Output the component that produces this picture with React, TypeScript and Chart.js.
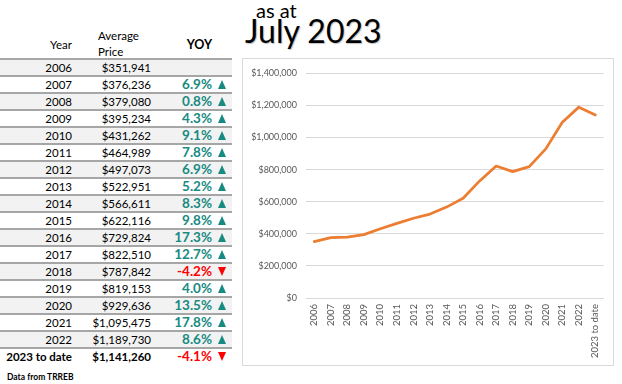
import React, { useEffect, useRef } from "react";
import { Chart, registerables } from "chart.js";

Chart.register(...registerables);

const years = ["2006", "2007", "2008", "2009", "2010", "2011", "2012", "2013", "2014", "2015", "2016", "2017", "2018", "2019", "2020", "2021", "2022", "2023 to date"];
const prices = [351941, 376236, 379080, 395234, 431262, 464989, 497073, 522951, 566611, 622116, 729824, 822510, 787842, 819153, 929636, 1095475, 1189730, 1141260];
const yoy: (number | null)[] = [null, 6.9, 0.8, 4.3, 9.1, 7.8, 6.9, 5.2, 8.3, 9.8, 17.3, 12.7, -4.2, 4.0, 13.5, 17.8, 8.6, -4.1];
const yTicks = [0, 200000, 400000, 600000, 800000, 1000000, 1200000, 1400000];

const FONT = "Lato, 'Open Sans', sans-serif";
const TEAL = "#178a82";
const RED = "#ff0000";

const fmtMoney = (v: number) => "$" + v.toLocaleString("en-US");

function Triangle({ up }: { up: boolean }) {
  const s: React.CSSProperties = {
    position: "absolute",
    left: 218,
    top: 3,
    width: 0,
    height: 0,
    borderLeft: "4.5px solid transparent",
    borderRight: "4.5px solid transparent",
  };
  if (up) s.borderBottom = `9px solid ${TEAL}`;
  else s.borderTop = `9px solid ${RED}`;
  return <div style={s} />;
}

function Table() {
  const rowH = 17;
  const top0 = 58;
  return (
    <>
      <div style={{ position: "absolute", left: 0, top: 37, width: 72, textAlign: "right", fontSize: 11.5, lineHeight: "16px" }}>Year</div>
      <div style={{ position: "absolute", left: 98, top: 28, fontSize: 11.5, lineHeight: "16px" }}>
        Average
        <br />
        Price
      </div>
      <div style={{ position: "absolute", left: 160, top: 37, width: 52, textAlign: "right", fontSize: 12.5, fontWeight: 700, lineHeight: "16px" }}>YOY</div>
      {years.map((y, i) => {
        const last = i === years.length - 1;
        const v = yoy[i];
        return (
          <div
            key={y}
            style={{
              position: "absolute",
              left: 0,
              top: top0 + i * rowH,
              width: 232,
              height: rowH,
              boxSizing: "border-box",
              borderTop: "2px solid #a6a6a6",
              background: i % 2 === 0 ? "#f2f2f2" : "#ffffff",
            }}
          >
            <div style={{ position: "absolute", left: 0, top: 0, width: 72, textAlign: "right", fontSize: 11.5, lineHeight: "15px", fontWeight: last ? 700 : 400, whiteSpace: "nowrap" }}>{y}</div>
            <div style={{ position: "absolute", left: 70, top: 0, width: 81, textAlign: "right", fontSize: 11.5, lineHeight: "15px", fontWeight: last ? 700 : 400 }}>{fmtMoney(prices[i])}</div>
            {v !== null && (
              <>
                <div style={{ position: "absolute", left: 150, top: 0, width: 62, textAlign: "right", fontSize: 13.5, lineHeight: "15px", fontWeight: 700, color: v < 0 ? RED : TEAL }}>
                  {v.toFixed(1)}%
                </div>
                <Triangle up={v >= 0} />
              </>
            )}
          </div>
        );
      })}
      <div style={{ position: "absolute", left: 7, top: 372, fontSize: 8.5, fontWeight: 700, lineHeight: "10px" }}>Data from TRREB</div>
    </>
  );
}

function LineChart() {
  const ref = useRef<HTMLCanvasElement | null>(null);
  useEffect(() => {
    if (!ref.current) return;
    Chart.defaults.font.family = FONT;
    const chart = new Chart(ref.current, {
      type: "line",
      data: {
        labels: years,
        datasets: [
          {
            data: prices,
            borderColor: "#ED7D31",
            backgroundColor: "#ED7D31",
            borderWidth: 2.75,
            pointRadius: 0,
            tension: 0,
            fill: false,
            borderCapStyle: "round",
            borderJoinStyle: "round",
          },
        ],
      },
      options: {
        animation: false,
        responsive: false,
        maintainAspectRatio: false,
        layout: { padding: { top: 12, right: 7, left: 0, bottom: 0 } },
        plugins: { legend: { display: false }, tooltip: { enabled: false } },
        scales: {
          x: {
            offset: true,
            grid: { display: false, drawTicks: false },
            border: { display: true, color: "#d9d9d9" },
            ticks: { minRotation: 90, maxRotation: 90, autoSkip: false, padding: 6, color: "#595959", font: { size: 9.5 } },
            afterFit: (s: any) => {
              s.height = 67;
            },
          },
          y: {
            min: 0,
            max: 1400000,
            afterBuildTicks: (s: any) => {
              s.ticks = yTicks.map((v) => ({ value: v }));
            },
            grid: { color: "#d9d9d9", drawTicks: false },
            border: { display: false },
            ticks: {
              padding: 9,
              color: "#595959",
              font: { size: 9 },
              callback: (v: any) => fmtMoney(Number(v)),
            },
            afterFit: (s: any) => {
              s.width = 63;
            },
          },
        },
      },
    } as any);
    return () => chart.destroy();
  }, []);
  return (
    <div style={{ position: "absolute", left: 242, top: 58, width: 372, height: 308, boxSizing: "border-box", border: "1px solid #d9d9d9", background: "#fff" }}>
      <canvas ref={ref} width={370} height={306} style={{ display: "block", width: 370, height: 306 }} />
    </div>
  );
}

export default function App() {
  return (
    <div style={{ position: "fixed", left: 0, top: 0, width: 622, height: 384, background: "#fff", overflow: "hidden", fontFamily: FONT, color: "#000" }}>
      <div style={{ position: "absolute", left: 256, top: 0, fontSize: 20, lineHeight: "20px" }}>as at</div>
      <div style={{ position: "absolute", left: 245, top: 15, fontSize: 32, lineHeight: "32px", textShadow: "1px 1px 1px rgba(0,0,0,0.25)", whiteSpace: "nowrap" }}>July 2023</div>
      <Table />
      <LineChart />
    </div>
  );
}
